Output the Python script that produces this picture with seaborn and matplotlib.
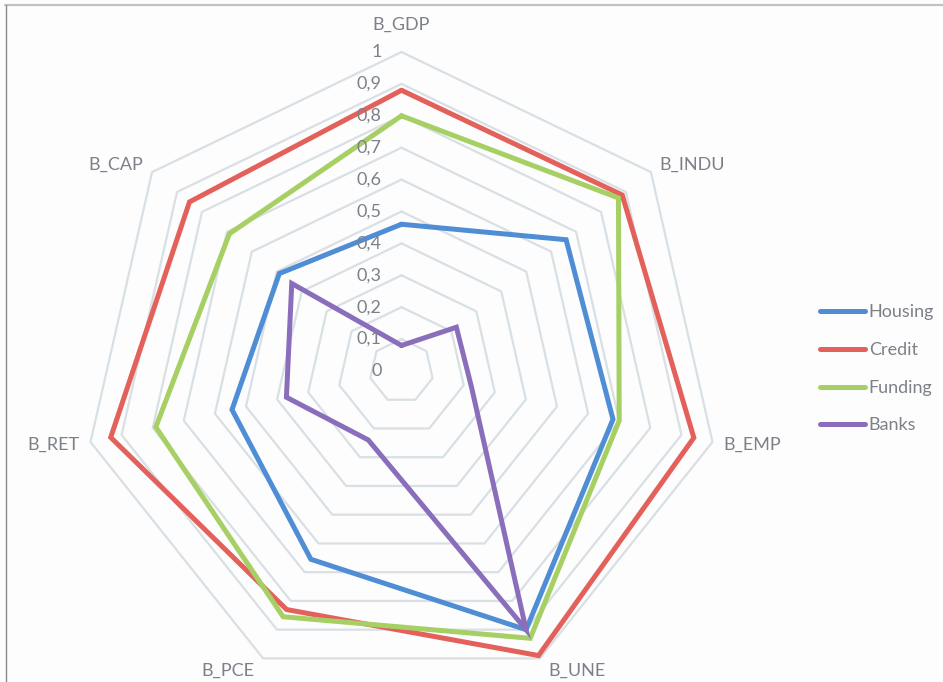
import numpy as np
import pandas as pd
import matplotlib
matplotlib.use("Agg")
import matplotlib.pyplot as plt
import seaborn as sns
from matplotlib.lines import Line2D

# ---- data -------------------------------------------------------------
categories = ["B_GDP", "B_INDU", "B_EMP", "B_UNE", "B_PCE", "B_RET", "B_CAP"]
series_names = ["Housing", "Credit", "Funding", "Banks"]
housing = [0.46, 0.66, 0.68, 0.90, 0.655, 0.545, 0.49]
credit = [0.88, 0.885, 0.94, 0.99, 0.83, 0.935, 0.85]
funding = [0.80, 0.87, 0.70, 0.93, 0.855, 0.79, 0.69]
banks = [0.08, 0.22, 0.225, 0.90, 0.24, 0.37, 0.44]
tick_values = [0.0, 0.1, 0.2, 0.3, 0.4, 0.5, 0.6, 0.7, 0.8, 0.9, 1.0]
tick_labels = ["0", "0,1", "0,2", "0,3", "0,4", "0,5", "0,6", "0,7", "0,8", "0,9", "1"]

palette = {"Housing": "#4F8ED5", "Credit": "#E4605B", "Funding": "#A6CF64", "Banks": "#8A6EBB"}
grid_color = "#D8E0E5"
text_color = "#7D8088"
FS = 13

# ---- radar geometry (clockwise from the top) --------------------------
n = len(categories)
theta = 2 * np.pi * np.arange(n) / n


def to_xy(r):
    r = np.asarray(r, dtype=float)
    return r * np.sin(theta), r * np.cos(theta)


rows = []
for name, vals in zip(series_names, [housing, credit, funding, banks]):
    xs, ys = to_xy(vals)
    for i in list(range(n)) + [0]:  # close the polygon
        rows.append({"series": name, "x": xs[i], "y": ys[i]})
df = pd.DataFrame(rows)

# ---- figure -----------------------------------------------------------
sns.set_theme(style="white")
plt.rcParams["font.family"] = ["Lato", "DejaVu Sans"]

W, H = 943, 682
cx, cy, R = 401.5, 371.0, 319.0  # centre and unit radius in pixels
fig = plt.figure(figsize=(W / 100, H / 100), dpi=100)
fig.patch.set_facecolor("#FDFDFD")
ax = fig.add_axes([0, 0, 1, 1])
ax.set_facecolor("#FDFDFD")
ax.set_xlim(-cx / R, (W - cx) / R)
ax.set_ylim(-(H - cy) / R, cy / R)
ax.set_axis_off()

# heptagonal grid rings
for v in tick_values[1:]:
    gx, gy = to_xy([v] * n)
    ax.plot(np.append(gx, gx[0]), np.append(gy, gy[0]), color=grid_color, lw=1.6, zorder=1)

sns.lineplot(data=df, x="x", y="y", hue="series", hue_order=series_names,
             palette=palette, sort=False, estimator=None, linewidth=3.6,
             solid_joinstyle="miter", ax=ax, zorder=3)

# value labels along the top axis
for v, lab in zip(tick_values, tick_labels):
    ax.text(-20 / R, v, lab, ha="right", va="center", fontsize=FS, color=text_color)

# category labels
for k, cat in enumerate(categories):
    s, c = np.sin(theta[k]), np.cos(theta[k])
    ha = "center" if abs(s) < 0.1 else ("left" if s > 0 else "right")
    if c > 0.9:
        va, r = "bottom", 1.06
    elif c < -0.6:
        va, r = "baseline", 1.06
    else:
        va, r = "center", 1.035
    ax.text(r * s, r * c, cat, ha=ha, va=va, fontsize=FS, color=text_color)

# legend
handles, labels = ax.get_legend_handles_labels()
leg = ax.legend(handles, labels, loc="center left", bbox_to_anchor=(820 / W, 1 - 369 / H),
                bbox_transform=fig.transFigure, frameon=False, fontsize=FS,
                handlelength=2.5, handletextpad=0.2, labelspacing=1.2,
                borderpad=0, borderaxespad=0)
for t in leg.get_texts():
    t.set_color(text_color)
for l in leg.get_lines():
    l.set_linewidth(3.6)
    l.set_solid_capstyle("round")

# frame edges
fig.add_artist(Line2D([5 / W, 1], [1 - 5 / H, 1 - 5 / H], transform=fig.transFigure,
                      color="#C2C2C2", lw=1.6))
fig.add_artist(Line2D([5.5 / W, 5.5 / W], [0, 1 - 5 / H], transform=fig.transFigure,
                      color="#8A8A8A", lw=1.0))

fig.savefig("out.png", dpi=100, facecolor=fig.get_facecolor())
